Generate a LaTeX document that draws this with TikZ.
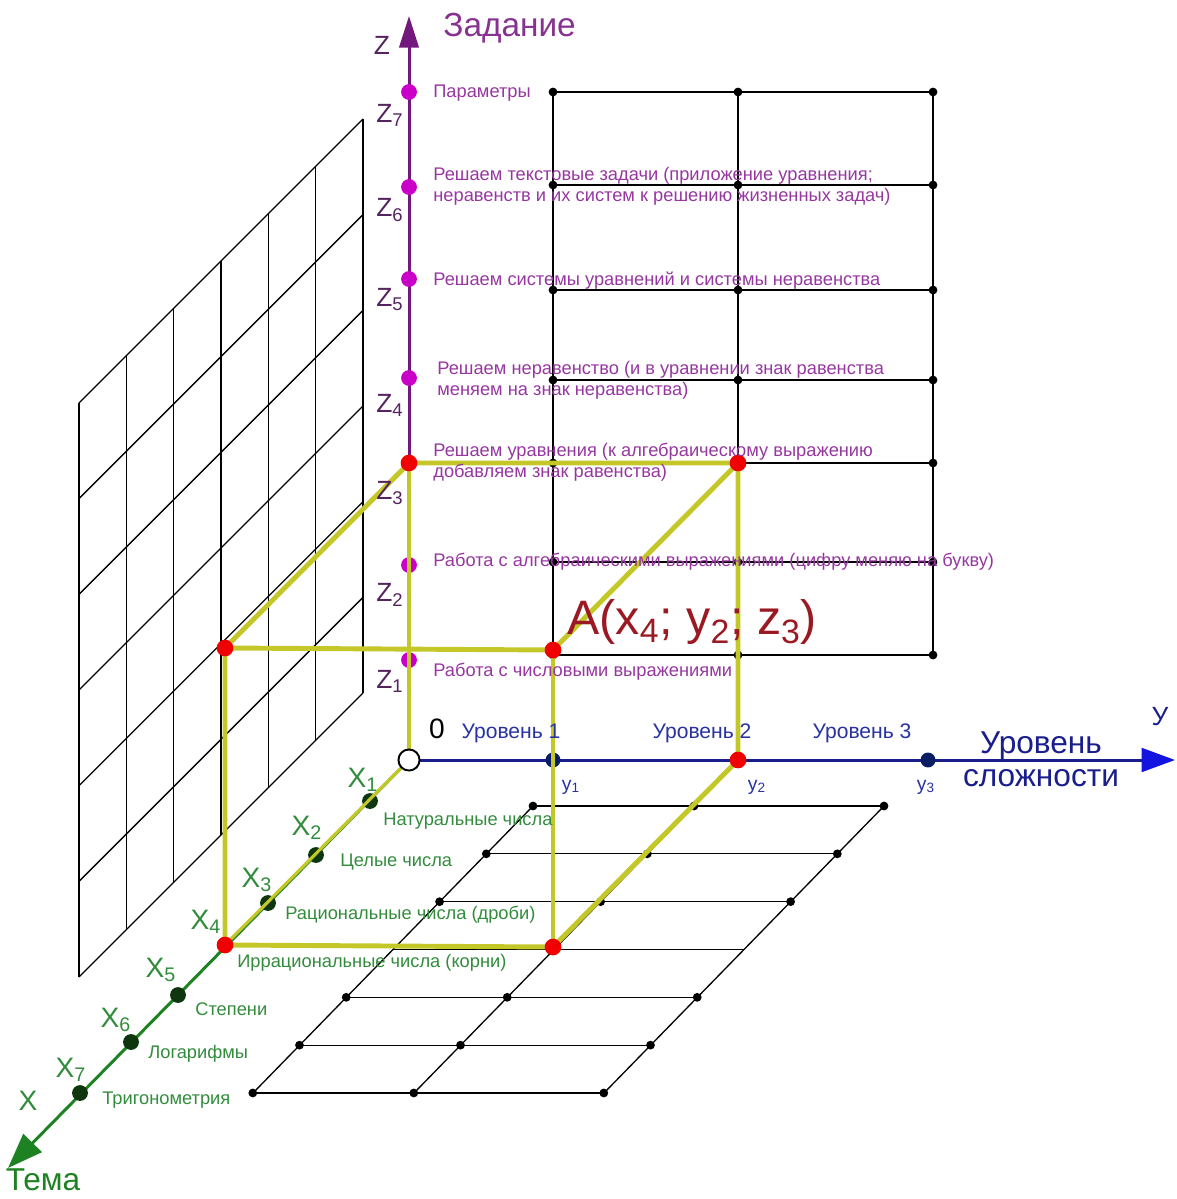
\documentclass[tikz,border=0pt]{standalone}
\usepackage{fontspec}
\setmainfont{Liberation Sans}
\usetikzlibrary{arrows.meta}

\definecolor{zline}{RGB}{115,25,125}
\definecolor{zpt}{RGB}{200,0,200}
\definecolor{ztxt}{RGB}{150,55,160}
\definecolor{zlet}{RGB}{85,35,95}
\definecolor{yline}{RGB}{25,30,140}
\definecolor{yarrow}{RGB}{20,20,225}
\definecolor{ypt}{RGB}{10,30,100}
\definecolor{ytxt}{RGB}{40,50,160}
\definecolor{xline}{RGB}{30,130,35}
\definecolor{xpt}{RGB}{15,55,15}
\definecolor{xtxt}{RGB}{50,140,60}
\definecolor{cube}{RGB}{195,200,40}
\definecolor{apt}{RGB}{240,0,0}
\definecolor{atxt}{RGB}{155,25,35}

\begin{document}
\begin{tikzpicture}[x=0.02cm, y=-0.02cm,
  grid/.style={draw=black, line width=0.75pt},
  gdot/.style={circle, fill=black, inner sep=0pt, minimum size=5pt},
  zdot/.style={circle, fill=zpt, inner sep=0pt, minimum size=9pt},
  ydot/.style={circle, fill=ypt, inner sep=0pt, minimum size=8.5pt},
  xdot/.style={circle, fill=xpt, inner sep=0pt, minimum size=9pt},
  rdot/.style={circle, fill=apt, inner sep=0pt, minimum size=9.5pt},
  edge/.style={draw=cube, line width=2.8pt},
  ztext/.style={text=ztxt, font=\fontsize{10.4}{12}\selectfont, anchor=west, align=left, inner sep=0pt},
  xtext/.style={text=xtxt, font=\fontsize{10.4}{12}\selectfont, anchor=west, inner sep=0pt},
  zname/.style={text=zlet, font=\fontsize{15}{15}\selectfont, inner sep=0pt},
  xname/.style={text=xtxt, font=\fontsize{16}{16}\selectfont, inner sep=0pt},
  ylevel/.style={text=ytxt, font=\fontsize{12}{12}\selectfont, inner sep=0pt},
  yname/.style={text=ytxt, font=\fontsize{11}{11}\selectfont, inner sep=0pt}
]
  \useasboundingbox (0,0) rectangle (1176,1199);

  % back wall (yz)
  \foreach \y in {655,562,463,380,290,185,92}
    \draw[grid] (553,\y) -- (933,\y);
  \foreach \x in {553,738,933}
    \draw[grid] (\x,92) -- (\x,655);
  \foreach \y in {655,562,463,380,290,185,92}
    \foreach \x in {553,738,933}
      \node[gdot] at (\x,\y) {};

  % left wall (xz)
  \foreach \k in {0,...,6}
    \draw[grid] (363,119+95.67*\k) -- (79,403+95.67*\k);
  \foreach \i in {0,...,6}
    \draw[grid] (363-47.33*\i,119+47.33*\i) -- (363-47.33*\i,693+47.33*\i);

  % floor (xy)
  \foreach \k in {0,...,6}
    \draw[grid] (533-46.7*\k,806+47.83*\k) -- (884-46.7*\k,806+47.83*\k);
  \draw[grid] (533,806) -- (253,1093);
  \draw[grid] (694,806) -- (414,1093);
  \draw[grid] (884,806) -- (604,1093);
  \foreach \k in {0,1,2,4,5,6}
    \foreach \x in {533,694,884}
      \node[gdot] at (\x-46.7*\k,806+47.83*\k) {};

  % axes
  \coordinate (O) at (409,760);
  \coordinate (ztip) at (409,16);
  \coordinate (ytip) at (1175,760);
  \coordinate (xtip) at (8,1168);
  \draw[zline, line width=1.7pt, -{Triangle[length=18pt,width=11pt]}] (O) -- (ztip);
  \draw[yline, line width=1.7pt, -{Triangle[length=19pt,width=13.5pt,color=yarrow]}] (O) -- (ytip);
  \draw[xline, line width=1.7pt, -{Triangle[length=20pt,width=14.5pt]}] (O) -- (xtip);

  % points on the axes
  \foreach \n/\y in {7/92,6/187,5/279,4/378,2/565,1/660}
    \node[zdot] (z\n) at (409,\y) {};
  \node[ydot] (y1) at (553,760) {};
  \node[ydot] (y3) at (928,760) {};
  \foreach \n/\x/\y in {1/370/801,2/316/855,3/268/903,5/178/995,6/131/1042,7/80/1093}
    \node[xdot] (x\n) at (\x,\y) {};

  % the box of A
  \coordinate (x4) at (225,945);
  \coordinate (y2) at (738,760);
  \coordinate (z3) at (409,463);
  \coordinate (xz) at (225,648);
  \coordinate (yz) at (738,463);
  \coordinate (xy) at (553,947);
  \coordinate (A) at (553,650);
  \draw[edge] (z3) -- (O);
  \draw[draw=cube, line width=1.8pt] (O) -- (x4);
  \draw[edge] (xz) -- (z3) -- (yz) -- (y2) -- (xy) -- (x4) -- cycle;
  \draw[edge] (xz) -- (A) -- (yz);
  \draw[edge] (A) -- (xy);
  \foreach \p in {z3,yz,xz,A,x4,xy,y2}
    \node[rdot] at (\p) {};
  \node[circle, draw=black, fill=white, line width=1.1pt, inner sep=0pt, minimum size=12pt] (o) at (O) {};

  % z labels
  \node[zname] (zlab) at (382,45) {Z};
  \node[text=ztxt!90!black, font=\fontsize{19}{19}\selectfont, anchor=west, inner sep=0pt] (task) at (443,28) {Задание};
  \foreach \n/\y in {7/115,6/210,5/300,4/405,3/493,2/595,1/681}
    \node[zname] at (390,\y) {Z\textsubscript{\n}};
  \node[ztext] at (433,93) {Параметры};
  \node[ztext] at (433,186) {Решаем текстовые задачи (приложение уравнения;\\неравенств и их систем к решению жизненных задач)};
  \node[ztext] at (433,281) {Решаем системы уравнений и системы неравенства};
  \node[ztext] at (437,380) {Решаем неравенство (и в уравнении знак равенства\\меняем на знак неравенства)};
  \node[ztext] at (433,462) {Решаем уравнения (к алгебраическому выражению\\добавляем знак равенства)};
  \node[ztext] at (433,562) {Работа с алгебраическими выражениями (цифру меняю на букву)};
  \node[ztext] at (433,672) {Работа с числовыми выражениями};

  % y labels
  \node[text=black, font=\fontsize{16}{16}\selectfont, inner sep=0pt] (zero) at (437,729) {0};
  \node[ylevel] at (511,733) {Уровень 1};
  \node[ylevel] at (702,733) {Уровень 2};
  \node[ylevel] at (862,733) {Уровень 3};
  \node[yname] at (571,787) {у\textsubscript{1}};
  \node[yname] at (757,787) {у\textsubscript{2}};
  \node[yname] at (926,787) {у\textsubscript{3}};
  \node[text=yline, font=\fontsize{18}{19}\selectfont, align=center, inner sep=0pt] (level) at (1041,759) {Уровень\\сложности};
  \node[text=yline, font=\fontsize{15}{15}\selectfont, inner sep=0pt] (ylab) at (1160,717) {У};

  % x labels
  \foreach \n/\x/\y in {1/363/780,2/307/828,3/257/880,4/206/922,5/161/970,6/116/1020,7/71/1070}
    \node[xname] at (\x,\y) {X\textsubscript{\n}};
  \node[xname] (xlab) at (28,1101) {X};
  \node[text=xline, font=\fontsize{18}{18}\selectfont, inner sep=0pt] (theme) at (43,1180) {Тема};
  \node[xtext] at (383,821) {Натуральные числа};
  \node[xtext] at (340,862) {Целые числа};
  \node[xtext] at (285,915) {Рациональные числа (дроби)};
  \node[xtext] at (237,963) {Иррациональные числа (корни)};
  \node[xtext] at (195,1009) {Степени};
  \node[xtext] at (148,1054) {Логарифмы};
  \node[xtext] at (102,1100) {Тригонометрия};

  % point A
  \node[text=atxt, font=\fontsize{27.5}{27.5}\selectfont, anchor=west, inner sep=0pt] (alab) at (567,622) {A(x\textsubscript{4}; y\textsubscript{2}; z\textsubscript{3})};
\end{tikzpicture}
\end{document}
